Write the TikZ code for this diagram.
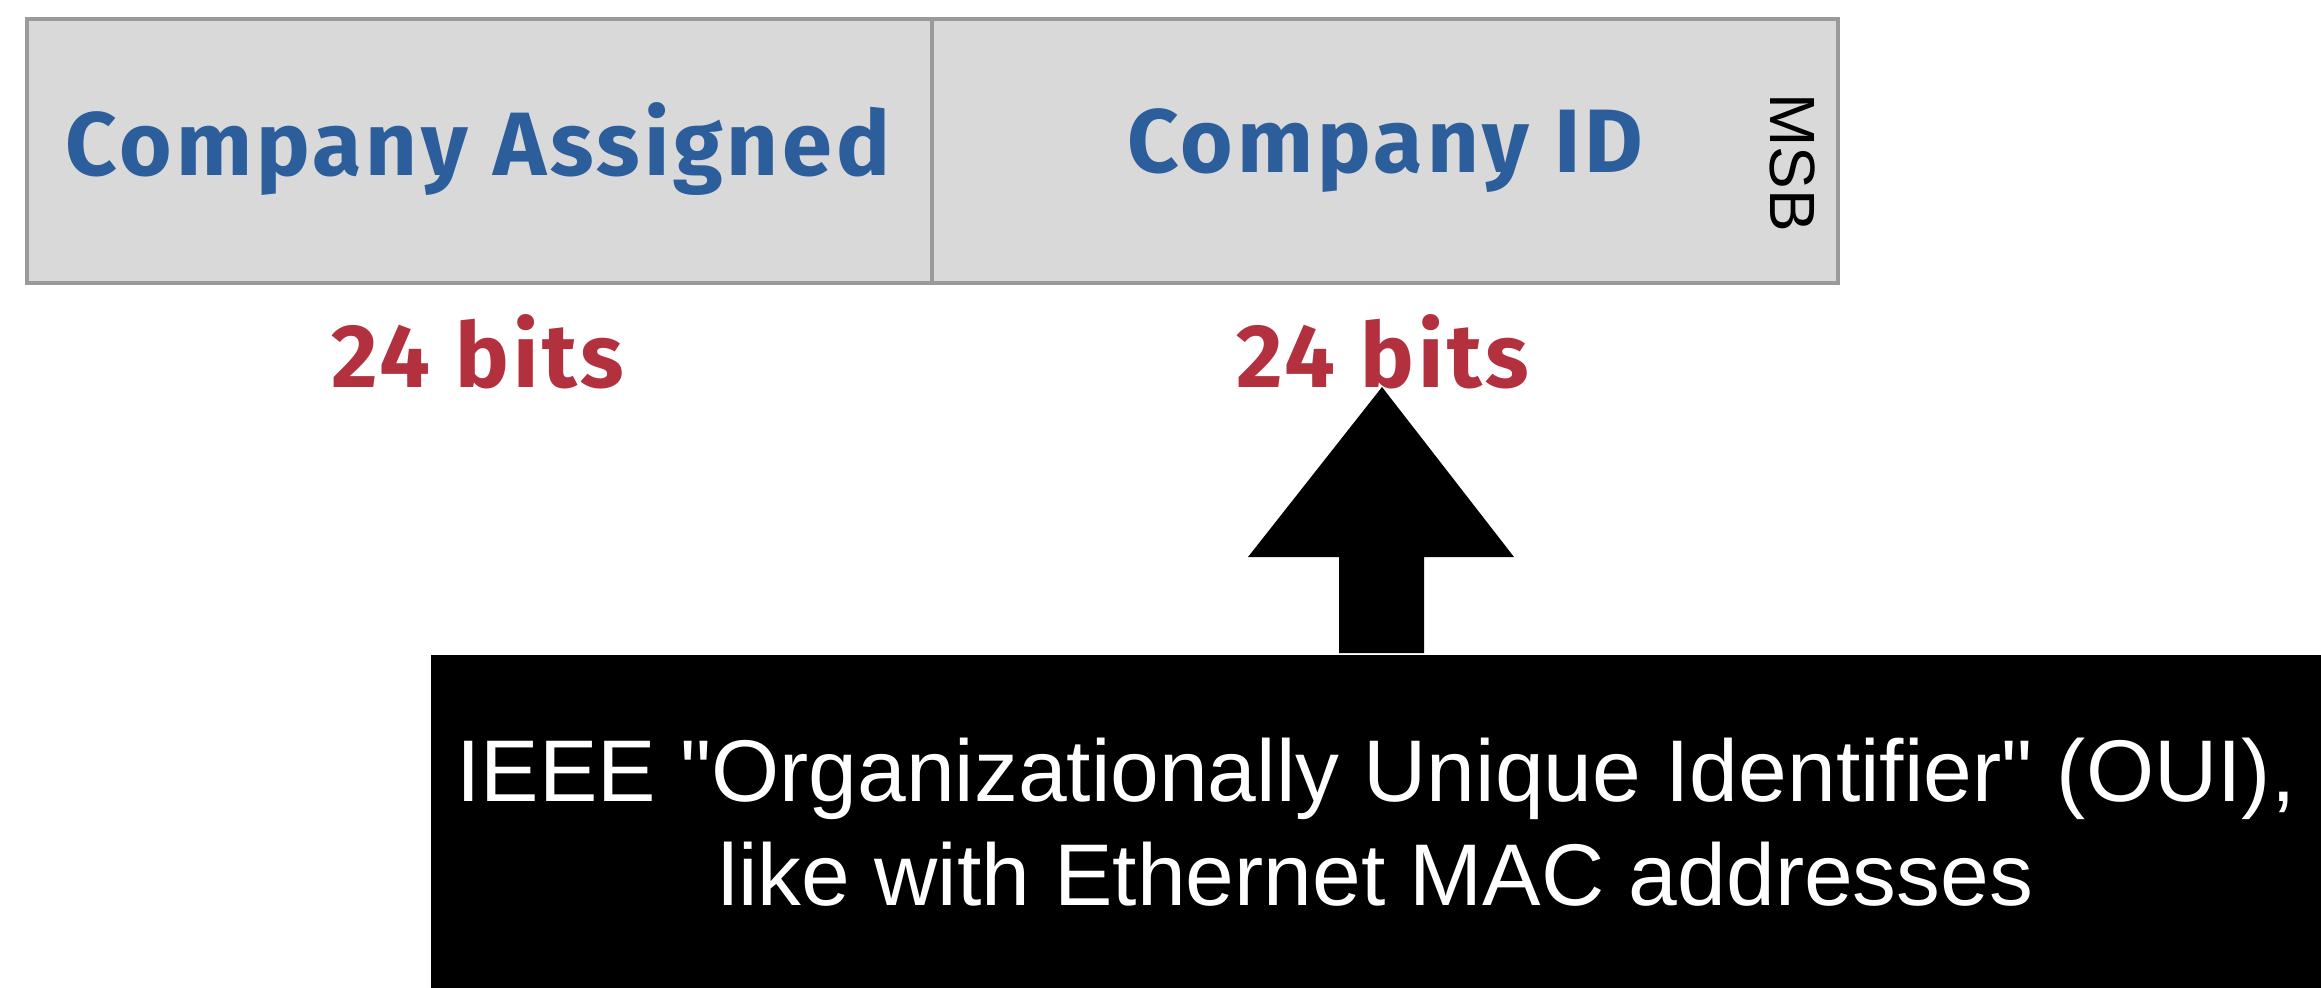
\documentclass[tikz,border=0pt]{standalone}
\usepackage{fontspec}
\setmainfont{Liberation Sans}[Ligatures=TeXOff]
\newfontfamily\labelfont{Fira Sans}[LetterSpace=4.3]
\definecolor{fieldfill}{HTML}{D9D9D9}
\definecolor{fieldborder}{HTML}{9A9A9A}
\definecolor{labelblue}{HTML}{2D5E9C}
\definecolor{labelred}{HTML}{B3303F}
\begin{document}
\begin{tikzpicture}[x=0.5pt,y=-0.5pt,
  field/.style={draw=fieldborder, line width=1.6pt, fill=fieldfill, minimum height=132pt, inner sep=0pt},
  fieldtext/.style={font=\labelfont\bfseries\fontsize{45}{45}\selectfont, text=labelblue, anchor=base, inner sep=0pt},
  bitstext/.style={font=\labelfont\bfseries\fontsize{45}{45}\selectfont, text=labelred, anchor=base, inner sep=0pt},
  msbtext/.style={font=\fontsize{32}{32}\selectfont, rotate=-90, inner sep=0pt},
  notebox/.style={fill=black, text=white, minimum width=945pt, minimum height=167pt, inner sep=0pt, align=center,
    font=\fontsize{43.8}{52}\selectfont},
  blockarrow/.style={fill=black}]
\useasboundingbox (0,0) rectangle (2321,987);
\node[field, minimum width=452.5pt] (assigned) at (479.5,151) {};
\node[field, minimum width=453pt] (companyid) at (1385,151) {};
\node[fieldtext] (assignedlbl) at (478,175) {Company Assigned};
\node[fieldtext] (idlbl) at (1385,172) {Company ID};
\node[msbtext] (msb) at (1793,163) {MSB};
\node[bitstext] (bitsleft) at (478,387) {24 bits};
\node[bitstext] (bitsright) at (1383,387) {24 bits};
\node[notebox] (note) at (1376,822) {IEEE "Organizationally Unique Identifier" (OUI),\\like with Ethernet MAC addresses};
\coordinate (tip) at (1382,387);
\fill[blockarrow] (tip) -- (1514,557) -- (1424,557) -- (1424,653) -- (1339,653) -- (1339,557) -- (1248,557) -- cycle;
\end{tikzpicture}
\end{document}
